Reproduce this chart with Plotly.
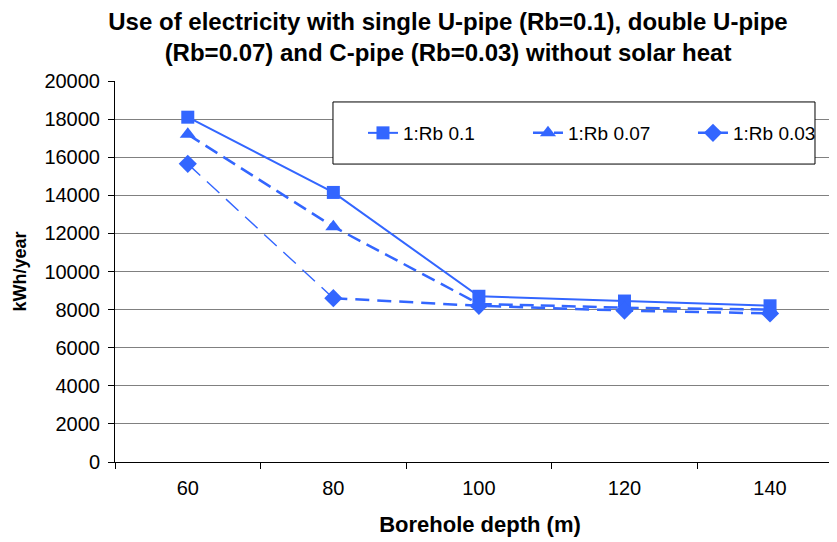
import plotly.graph_objects as go

depths = ["60", "80", "100", "120", "140"]
rb_010 = [18100, 14150, 8700, 8450, 8200]
rb_007 = [17200, 12350, 8300, 8100, 8000]
rb_003 = [15650, 8600, 8200, 7950, 7800]

blue = "#3366FF"
fig = go.Figure()
fig.add_trace(go.Scatter(x=depths, y=rb_010, name="1:Rb 0.1", mode="lines+markers",
                         line=dict(color=blue, width=2),
                         marker=dict(symbol="square", size=13, color=blue)))
fig.add_trace(go.Scatter(x=depths, y=rb_007, name="1:Rb 0.07", mode="lines+markers",
                         line=dict(color=blue, width=2.5, dash="14px,7px"),
                         marker=dict(symbol="triangle-up", size=14, color=blue)))
# thin first segment of the Rb 0.03 series (as in the original rendering)
fig.add_trace(go.Scatter(x=depths[:2], y=rb_003[:2], mode="lines", showlegend=False,
                         hoverinfo="skip",
                         line=dict(color=blue, width=1.4, dash="17px,9px")))
fig.add_trace(go.Scatter(x=depths[:1], y=rb_003[:1], mode="markers", showlegend=False,
                         marker=dict(symbol="diamond", size=14, color=blue)))
fig.add_trace(go.Scatter(x=depths[1:], y=rb_003[1:], name="1:Rb 0.03", mode="lines+markers",
                         line=dict(color=blue, width=2.5, dash="14px,8px"),
                         marker=dict(symbol="diamond", size=14, color=blue)))

fig.add_shape(type="rect", xref="paper", yref="paper",
              x0=0.2986, x1=0.9589, y0=0.782, y1=0.945,
              line=dict(color="black", width=1), fillcolor="white", layer="above")

fig.update_layout(
    width=837, height=542,
    margin=dict(l=107, r=0, t=73, b=88, autoexpand=False),
    paper_bgcolor="white", plot_bgcolor="white",
    font=dict(family="Liberation Sans, Arial, sans-serif", color="black", size=19),
    title=dict(text="<b>Use of electricity with single U-pipe (Rb=0.1), double U-pipe<br>(Rb=0.07) and C-pipe (Rb=0.03) without solar heat</b>",
               x=0.5257, xanchor="center", y=0.96, yanchor="top",
               font=dict(size=24)),
    showlegend=True,
    legend=dict(orientation="h", x=0.3397, y=0.8635, xanchor="left", yanchor="middle",
                bgcolor="rgba(0,0,0,0)", borderwidth=0,
                font=dict(size=19), entrywidth=120, tracegroupgap=0),
    xaxis=dict(type="category", range=[-0.5, 4.515], showgrid=False, automargin=False,
               showline=True, linecolor="black", linewidth=1,
               ticks="outside", ticklen=6, tickcolor="black", tickson="boundaries",
               tickfont=dict(size=20), ticklabelstandoff=8,
               title=dict(text="<b>Borehole depth (m)</b>", font=dict(size=22), standoff=18)),
    yaxis=dict(range=[0, 20000], dtick=2000, tickformat="d", showgrid=True,
               gridcolor="#808080", gridwidth=1, automargin=False,
               showline=True, linecolor="black", linewidth=1, zeroline=False,
               ticks="outside", ticklen=6, tickcolor="black",
               tickfont=dict(size=20), ticklabelstandoff=4,
               title=dict(text="<b>kWh/year</b>", font=dict(size=18), standoff=13)),
)
fig.write_html("out.html")
